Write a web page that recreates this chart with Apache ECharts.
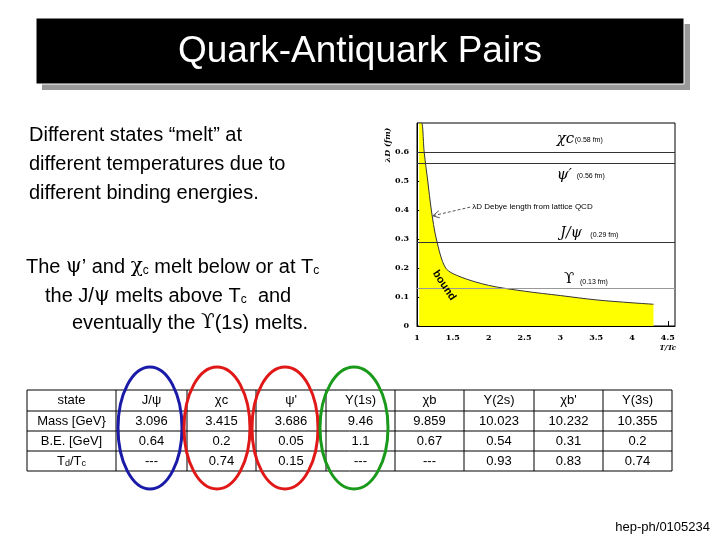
<!DOCTYPE html>
<html><head><meta charset="utf-8">
<script src="https://cdn.jsdelivr.net/npm/echarts@6/dist/echarts.min.js"></script>
<style>html,body{margin:0;padding:0;background:#fff}#c{width:720px;height:540px}</style>
</head><body><div id="c"></div>
<script>
// Debye length curve (T/Tc, lambda_D in fm)
var debyeX = [1.03, 1.065, 1.1, 1.15, 1.2, 1.27, 1.4, 1.6, 2.0, 2.5, 3.0, 3.5, 4.0, 4.3];
var debyeY = [0.70, 0.70, 0.60, 0.50, 0.40, 0.30, 0.20, 0.17, 0.14, 0.12, 0.105, 0.09, 0.08, 0.075];
// state radii lines
var radiusLines = [0.60, 0.565, 0.294, 0.132];
var xTicks = [1, 1.5, 2, 2.5, 3, 3.5, 4, 4.5];
// table
var tableHeader = ['state','J/ψ','χc','ψ\'','Y(1s)','χb','Y(2s)','χb\'','Y(3s)'];
var massRow = ['Mass [GeV}','3.096','3.415','3.686','9.46','9.859','10.023','10.232','10.355'];
var beRow = ['B.E. [GeV]','0.64','0.2','0.05','1.1','0.67','0.54','0.31','0.2'];
var tdRow = ['Td/Tc','---','0.74','0.15','---','---','0.93','0.83','0.74'];

var chart = echarts.init(document.getElementById('c'));
var F = 'Liberation Sans, Arial, sans-serif';
chart.setOption({
  animation:false,
  grid:{left:417,right:45,top:123,bottom:214,show:true,borderColor:'#000',borderWidth:1},
  xAxis:{type:'value',min:1,max:4.6,interval:0.5,
    axisLine:{lineStyle:{color:'#000'}},axisTick:{inside:true,color:'#000'},
    axisLabel:{color:'#000',fontSize:8,fontWeight:'bold',fontFamily:'DejaVu Serif',showMaxLabel:false,
      formatter:function(v){return xTicks.indexOf(v)>=0?String(v):'';}},
    splitLine:{show:false}},
  yAxis:{type:'value',min:0,max:0.7,interval:0.1,
    axisLine:{show:true,lineStyle:{color:'#000'}},axisTick:{inside:true},
    axisLabel:{color:'#000',fontSize:8,fontWeight:'bold',fontFamily:'DejaVu Serif',showMaxLabel:false},
    splitLine:{show:false}},
  series:[{type:'line',data:debyeX.map(function(x,i){return [x,debyeY[i]];}),
    symbol:'none',smooth:0.3,lineStyle:{color:'#333',width:1},
    areaStyle:{color:'#ffff00',opacity:1},
    markLine:{symbol:'none',silent:true,label:{show:false},
      lineStyle:{color:'#333',width:1,type:'solid'},
      data:radiusLines.map(function(v,i){return {yAxis:v,lineStyle:{color:i==3?'#999':'#333'}};})}
  }]
});
function P(x,y){return chart.convertToPixel({gridIndex:0},[x,y]);}
var g=[];
function txt(x,y,t,o){o=o||{};g.push({type:'text',x:x,y:y,rotation:o.rot||0,z:10,style:{text:t,fill:o.fill||'#000',
  font:(o.font||'13px '+F),textAlign:o.align||'left',textVerticalAlign:'middle',rich:o.rich}});}
var p;
p=P(2.95,0.645);txt(p[0],p[1],'χc',{font:'italic 15px DejaVu Serif'});txt(p[0]+18,p[1]+1,'(0.58 fm)',{font:'7px '+F});
p=P(2.95,0.52);txt(p[0],p[1],'ψ′',{font:'italic 15px DejaVu Serif'});txt(p[0]+20,p[1]+1,'(0.56 fm)',{font:'7px '+F});
p=P(1.77,0.41);txt(p[0],p[1],'λD Debye length from lattice QCD',{font:'8px '+F});
var a=P(1.22,0.38);g.push({type:'line',z:10,shape:{x1:p[0]-2,y1:p[1],x2:a[0],y2:a[1]},style:{stroke:'#555',lineDash:[3,2]}});
g.push({type:'polyline',z:10,shape:{points:[[a[0]+6,a[1]-5],[a[0],a[1]],[a[0]+7,a[1]+2]]},style:{stroke:'#555',fill:null}});
p=P(3.0,0.32);txt(p[0],p[1],'J/ψ',{font:'italic 14px DejaVu Serif'});txt(p[0]+30,p[1]+2,'(0.29 fm)',{font:'7px '+F});
p=P(3.05,0.16);txt(p[0],p[1],'ϒ',{font:'15px DejaVu Serif'});txt(p[0]+16,p[1]+2,'(0.13 fm)',{font:'7px '+F});
p=P(1.38,0.14);txt(p[0],p[1],'bound',{font:'bold 11px '+F,rot:-Math.PI/3.2,align:'center'});
p=P(4.5,0);txt(p[0],p[1]+22,'T/Tc',{font:'italic bold 7px DejaVu Serif',align:'center'});
txt(388,145,'λD (fm)',{font:'italic bold 8px DejaVu Serif',rot:Math.PI/2,align:'center'});
g.push({type:'rect',shape:{x:42,y:24,width:648,height:66},style:{fill:'#999'}});
g.push({type:'rect',shape:{x:36,y:18,width:648,height:66},style:{fill:'#000',stroke:'#fff',lineWidth:1}});
txt(360,52,'Quark-Antiquark Pairs',{fill:'#fff',font:'37px '+F,align:'center'});
['Different states “melt” at','different temperatures due to','different binding energies.'].forEach(function(t,i){txt(29,135+i*29,t,{font:'20px '+F});});
var rich={s:{fontSize:12,fontFamily:F,verticalAlign:'bottom',padding:[8,0,0,0]},g:{fontSize:20,fontFamily:'DejaVu Serif'}};
txt(26,267,'The {g|ψ}’ and {g|χ}{s|c} melt below or at T{s|c}',{font:'20px '+F,rich:rich,fill:'#000'});
txt(45,296,'the J/{g|ψ} melts above T{s|c}  and',{font:'20px '+F,rich:rich});
txt(72,323,'eventually the {g|ϒ}(1s) melts.',{font:'20px '+F,rich:rich});
var cols=[27,116,187,256,326,395,464,534,603,672];
var rows=[390,411,431,451,471];
var tab=[tableHeader,massRow,beRow,tdRow];
g.push({type:'rect',shape:{x:cols[0],y:rows[0],width:cols[9]-cols[0],height:rows[4]-rows[0]},style:{fill:'#fff',stroke:'#000',lineWidth:1}});
cols.slice(1,9).forEach(function(x){g.push({type:'line',shape:{x1:x,y1:rows[0],x2:x,y2:rows[4]},style:{stroke:'#000'}});});
rows.slice(1,4).forEach(function(y){g.push({type:'line',shape:{x1:cols[0],y1:y,x2:cols[9],y2:y},style:{stroke:'#000'}});});
tab.forEach(function(r,ri){r.forEach(function(c,ci){
  var cx=(cols[ci]+cols[ci+1])/2, cy=(rows[ri]+rows[ri+1])/2;
  if(ri==3&&ci==0){txt(cx,cy,'T{a|d}/T{a|c}',{font:'13px '+F,align:'center',rich:{a:{fontSize:9,fontFamily:F,padding:[5,0,0,0]}}});return;}
  txt(cx,cy,c,{font:'13px '+F,align:'center'});});});
[[150,428,32,61,'#1a1aa8'],[217,428,33,61,'#e01818'],[285,428,33,61,'#e01818'],[354,428,34,61,'#1a9a1a']].forEach(function(e){
  g.push({type:'ellipse',z:20,shape:{cx:e[0],cy:e[1],rx:e[2],ry:e[3]},style:{fill:null,stroke:e[4],lineWidth:3}});});
txt(710,527,'hep-ph/0105234',{font:'13px '+F,align:'right'});
chart.setOption({graphic:{elements:g}});
</script></body></html>
